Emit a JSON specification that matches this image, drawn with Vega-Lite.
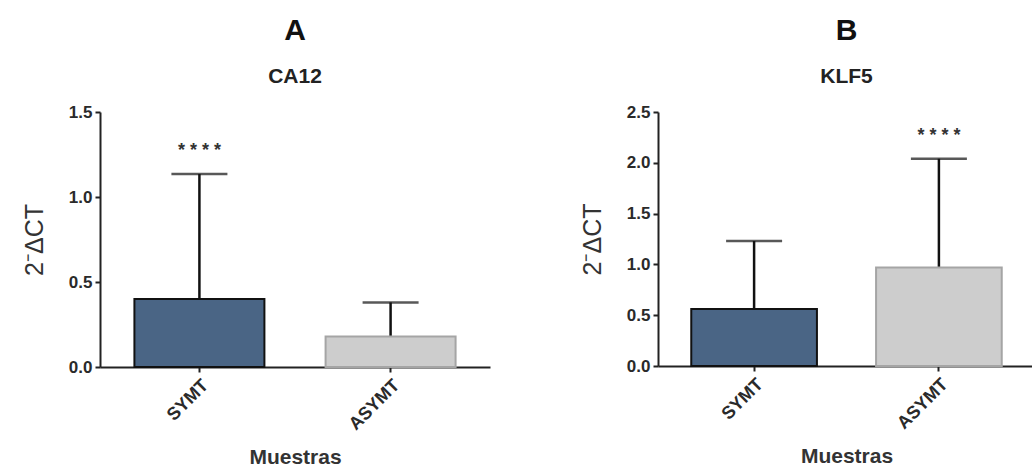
{
  "$schema": "https://vega.github.io/schema/vega-lite/v6.json",
  "padding": {"left": 22, "top": 16, "right": 0, "bottom": 0},
  "background": "white",
  "spacing": 90,
  "config": {
    "font": "Liberation Sans",
    "view": {"stroke": null},
    "axis": {
      "domainColor": "#222", "domainWidth": 2, "tickColor": "#222", "tickWidth": 2, "tickSize": 5,
      "labelFont": "Liberation Sans", "labelFontWeight": "bold", "labelColor": "#2a2a2a",
      "titleFont": "Liberation Sans", "titleColor": "#333", "grid": false
    },
    "axisX": {"labelAngle": -45, "labelFontSize": 18, "titleFontSize": 21, "titleFontWeight": "bold", "titlePadding": 13, "labelPadding": 4},
    "axisY": {"labelFontSize": 17, "titleFontSize": 25, "titleFontWeight": "normal", "titlePadding": 21, "labelPadding": 3},
    "title": {"fontSize": 30, "fontWeight": "bold", "color": "#111", "subtitleFontSize": 21, "subtitleFontWeight": "bold", "subtitleColor": "#222", "subtitlePadding": 20, "offset": 16, "anchor": "middle"}
  },
  "datasets": {
    "a": [
      {"group": "SYMT", "mean": 0.40, "err": 1.135, "sig": "* * * *"},
      {"group": "ASYMT", "mean": 0.18, "err": 0.38, "sig": ""}
    ],
    "b": [
      {"group": "SYMT", "mean": 0.56, "err": 1.23, "sig": ""},
      {"group": "ASYMT", "mean": 0.97, "err": 2.04, "sig": "* * * *"}
    ]
  },
  "hconcat": [
    {
      "width": 390, "height": 255,
      "title": {"text": "A", "subtitle": "CA12"},
      "data": {"name": "a"},
      "encoding": {
        "x": {"field": "group", "type": "nominal", "sort": ["SYMT", "ASYMT"], "scale": {"paddingInner": 0.32, "paddingOuter": 0.18}, "axis": {"title": "Muestras"}}
      },
      "layer": [
        {"mark": {"type": "rule", "color": "#111", "strokeWidth": 2.5}, "encoding": {"y": {"field": "mean", "type": "quantitative", "title": "2⁻ΔCT"}, "y2": {"field": "err"}}},
        {"mark": {"type": "bar", "strokeWidth": 2},
         "encoding": {
           "y": {"field": "mean", "type": "quantitative", "title": "2⁻ΔCT", "scale": {"domain": [0, 1.5], "nice": false}, "axis": {"values": [0, 0.5, 1, 1.5], "format": ".1f"}},
           "fill": {"field": "group", "type": "nominal", "scale": {"domain": ["SYMT", "ASYMT"], "range": ["#4a6585", "#cdcdcd"]}, "legend": null},
           "stroke": {"field": "group", "type": "nominal", "scale": {"domain": ["SYMT", "ASYMT"], "range": ["#111111", "#a5a5a5"]}, "legend": null}
         }},
        {"mark": {"type": "tick", "size": 56, "thickness": 2.5, "color": "#111"}, "encoding": {"y": {"field": "err", "type": "quantitative", "title": "2⁻ΔCT"}}},
        {"mark": {"type": "text", "dy": -23, "fontSize": 18, "fontWeight": "bold", "color": "#333"}, "encoding": {"y": {"field": "err", "type": "quantitative", "title": "2⁻ΔCT"}, "text": {"field": "sig"}}}
      ]
    },
    {
      "width": 377, "height": 254,
      "title": {"text": "B", "subtitle": "KLF5"},
      "data": {"name": "b"},
      "encoding": {
        "x": {"field": "group", "type": "nominal", "sort": ["SYMT", "ASYMT"], "scale": {"paddingInner": 0.32, "paddingOuter": 0.18}, "axis": {"title": "Muestras"}}
      },
      "layer": [
        {"mark": {"type": "rule", "color": "#111", "strokeWidth": 2.5}, "encoding": {"y": {"field": "mean", "type": "quantitative", "title": "2⁻ΔCT"}, "y2": {"field": "err"}}},
        {"mark": {"type": "bar", "strokeWidth": 2},
         "encoding": {
           "y": {"field": "mean", "type": "quantitative", "title": "2⁻ΔCT", "scale": {"domain": [0, 2.5], "nice": false}, "axis": {"values": [0, 0.5, 1, 1.5, 2, 2.5], "format": ".1f"}},
           "fill": {"field": "group", "type": "nominal", "scale": {"domain": ["SYMT", "ASYMT"], "range": ["#4a6585", "#cdcdcd"]}, "legend": null},
           "stroke": {"field": "group", "type": "nominal", "scale": {"domain": ["SYMT", "ASYMT"], "range": ["#111111", "#a5a5a5"]}, "legend": null}
         }},
        {"mark": {"type": "tick", "size": 56, "thickness": 2.5, "color": "#111"}, "encoding": {"y": {"field": "err", "type": "quantitative", "title": "2⁻ΔCT"}}},
        {"mark": {"type": "text", "dy": -23, "fontSize": 18, "fontWeight": "bold", "color": "#333"}, "encoding": {"y": {"field": "err", "type": "quantitative", "title": "2⁻ΔCT"}, "text": {"field": "sig"}}}
      ]
    }
  ]
}
